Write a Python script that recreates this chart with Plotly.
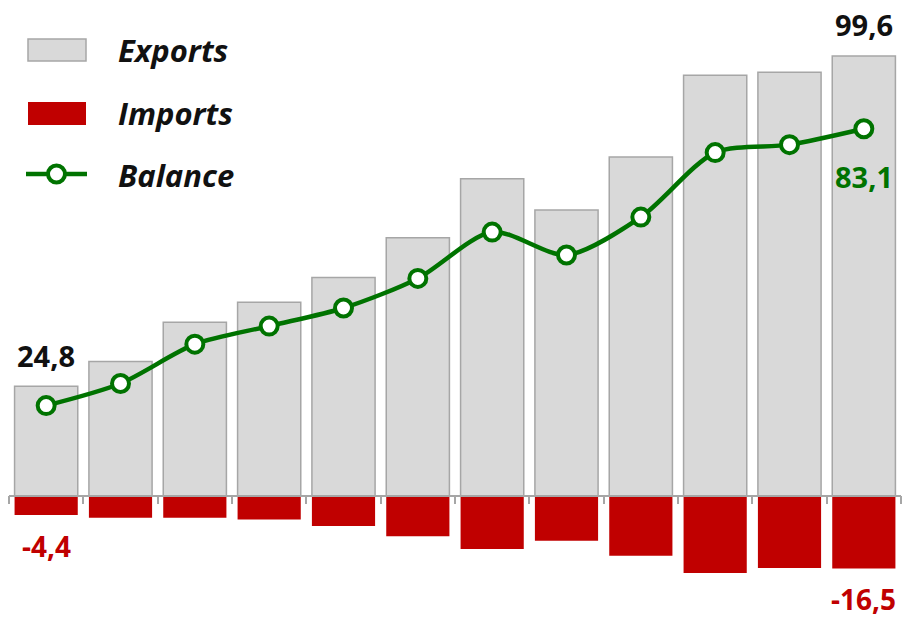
import plotly.graph_objects as go

# ---------------- data ----------------
categories = ["1", "2", "3", "4", "5", "6", "7", "8", "9", "10", "11", "12"]
exports = [24.8, 30.4, 39.3, 43.8, 49.4, 58.4, 71.8, 64.7, 76.7, 95.2, 95.9, 99.6]
imports = [-4.4, -5.0, -5.0, -5.4, -6.9, -9.2, -12.1, -10.2, -13.6, -17.5, -16.4, -16.5]
balance = [20.4, 25.4, 34.3, 38.4, 42.5, 49.2, 59.7, 54.5, 63.1, 77.7, 79.5, 83.1]
series_names = ["Exports", "Imports", "Balance"]

# ---------------- style ----------------
W, H = 904, 619
ML, MR, MT, MB = 9, 3, 10, 13
Y_RANGE = [-25, 110]
GREY_FILL = "#D9D9D9"
GREY_LINE = "#A6A6A6"
RED = "#C00000"
GREEN = "#007300"
NUM_FONT = "Open Sans"
LEG_FONT = "Open Sans"

PW = W - ML - MR
PH = H - MT - MB


def px_x(px):
    return (px - ML) / PW


def px_y(py):
    return (H - MB - py) / PH


def fmt(v):
    return f"{v:.1f}".replace(".", ",")


fig = go.Figure()
fig.add_trace(go.Bar(x=categories, y=exports, name=series_names[0], width=0.85,
                     marker=dict(color=GREY_FILL, line=dict(color=GREY_LINE, width=1.5))))
fig.add_trace(go.Bar(x=categories, y=imports, name=series_names[1], width=0.85,
                     marker=dict(color=RED, line=dict(width=0))))
fig.add_trace(go.Scatter(x=categories, y=balance, name=series_names[2], mode="lines+markers",
                         line=dict(color=GREEN, width=4.5, shape="spline", smoothing=0.8),
                         marker=dict(size=17, color="white", line=dict(color=GREEN, width=4))))

annotations = []
num_font = lambda c, s=29: dict(family=NUM_FONT, size=s, color=c, weight="bold")
last = len(categories) - 1
for i in (0, last):
    # x given as category index (position on the category axis)
    annotations.append(dict(x=i, y=exports[i], text=fmt(exports[i]), showarrow=False,
                            yanchor="middle", yshift=31, font=num_font("#111111")))
    annotations.append(dict(x=i, y=imports[i], text=fmt(imports[i]), showarrow=False,
                            yanchor="middle", yshift=-31, borderpad=0,
                            font=num_font(RED, 28)))
annotations.append(dict(x=last, y=balance[last], text=fmt(balance[last]), showarrow=False,
                        yanchor="middle", yshift=-48, font=num_font(GREEN)))

# custom legend
leg_y = [50, 113, 175]
for name, yy in zip(series_names, leg_y):
    annotations.append(dict(xref="paper", yref="paper", x=px_x(116), y=px_y(yy), xanchor="left",
                            yanchor="middle", text=name, showarrow=False,
                            font=dict(family=LEG_FONT, size=31, color="#111111",
                                      weight="bold", style="italic")))

shapes = [
    dict(type="rect", xref="paper", yref="paper", x0=px_x(28), x1=px_x(86), y0=px_y(61), y1=px_y(39),
         fillcolor=GREY_FILL, line=dict(color=GREY_LINE, width=1.5)),
    dict(type="rect", xref="paper", yref="paper", x0=px_x(28), x1=px_x(86), y0=px_y(125), y1=px_y(102),
         fillcolor=RED, line=dict(width=0)),
    dict(type="line", xref="paper", yref="paper", x0=px_x(26), x1=px_x(87), y0=px_y(174), y1=px_y(174),
         line=dict(color=GREEN, width=4.5)),
    dict(type="circle", xref="paper", yref="paper", x0=px_x(56.5 - 8.5), x1=px_x(56.5 + 8.5),
         y0=px_y(174 + 8.5), y1=px_y(174 - 8.5), fillcolor="white", line=dict(color=GREEN, width=4)),
]

zero_pos = (0 - Y_RANGE[0]) / (Y_RANGE[1] - Y_RANGE[0])

fig.update_layout(
    width=W, height=H,
    margin=dict(l=ML, r=MR, t=MT, b=MB),
    paper_bgcolor="white", plot_bgcolor="white",
    barmode="overlay",
    showlegend=False,
    annotations=annotations,
    shapes=shapes,
    xaxis=dict(type="category", range=[-0.5, len(categories) - 0.5], anchor="free",
               position=zero_pos, showline=True,
               linecolor=GREY_LINE, linewidth=1.5, ticks="outside", tickson="boundaries",
               ticklen=8, tickcolor=GREY_LINE, tickwidth=1.5, showticklabels=False,
               showgrid=False, zeroline=False),
    yaxis=dict(range=Y_RANGE, visible=False, showgrid=False, zeroline=False),
)

fig.write_html("out.html", config={"displayModeBar": False},
               post_script="document.body.style.margin='0';document.body.style.overflow='hidden';")
